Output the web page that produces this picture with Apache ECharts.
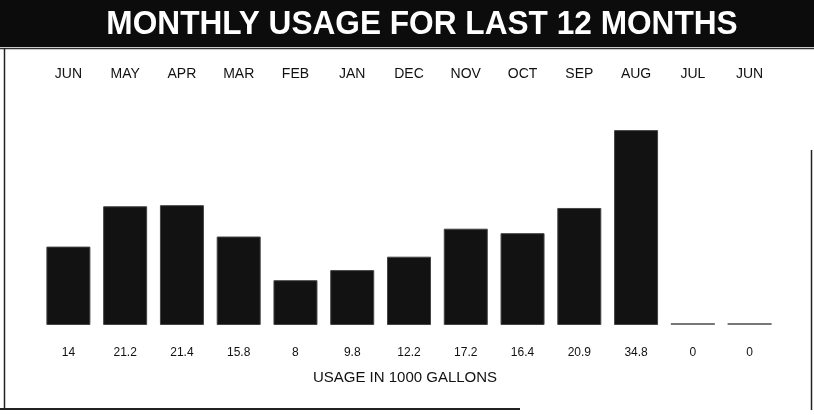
<!DOCTYPE html>
<html>
<head>
<meta charset="utf-8">
<script src="https://cdn.jsdelivr.net/npm/echarts@6/dist/echarts.min.js"></script>
<style>
  html, body { margin: 0; padding: 0; background: #fff; }
  #chart { width: 814px; height: 415px; }
</style>
</head>
<body>
<div id="chart"></div>
<script>
// months, newest first (as on the bill)
const months = ['JUN', 'MAY', 'APR', 'MAR', 'FEB', 'JAN', 'DEC', 'NOV', 'OCT', 'SEP', 'AUG', 'JUL', 'JUN']
// usage in 1000 gallons
const usage = [14, 21.2, 21.4, 15.8, 8, 9.8, 12.2, 17.2, 16.4, 20.9, 34.8, 0, 0]

const titleText = 'MONTHLY USAGE FOR LAST 12 MONTHS'
const unitText = 'USAGE IN 1000 GALLONS'

const chart = echarts.init(document.getElementById('chart'))

chart.setOption({
  animation: false,
  backgroundColor: '#fff',
  grid: { left: 40, right: 36, top: 101, bottom: 90 },
  xAxis: {
    type: 'category',
    position: 'top',
    data: months,
    axisLine: { show: false },
    axisTick: { show: false },
    axisLabel: {
      margin: 20,
      color: '#111',
      fontFamily: 'Liberation Sans, Arial, sans-serif',
      fontSize: 14
    }
  },
  yAxis: {
    type: 'value',
    min: 0,
    max: 40,
    show: false
  },
  series: [
    {
      type: 'bar',
      barWidth: 44,
      barMinHeight: 2,
      data: usage.map(v => v === 0
        ? { value: v, itemStyle: { color: '#777', borderWidth: 0 } }
        : v),
      itemStyle: {
        color: '#121212',
        borderColor: '#444',
        borderWidth: 1
      },
      label: {
        show: true,
        position: 'bottom',
        distance: 22,
        color: '#111',
        fontFamily: 'Liberation Sans, Arial, sans-serif',
        fontSize: 12,
        formatter: p => String(p.value)
      }
    }
  ],
  graphic: [
    {
      type: 'rect',
      shape: { x: 0, y: 0, width: 814, height: 47 },
      style: { fill: '#0c0c0c' }
    },
    {
      type: 'line',
      shape: { x1: 0, y1: 48.5, x2: 814, y2: 48.5 },
      style: { stroke: '#333', lineWidth: 1.5 }
    },
    {
      type: 'text',
      x: 422,
      y: 25,
      scaleX: 0.93,
      style: {
        text: titleText,
        fill: '#fff',
        font: 'bold 34px "Liberation Sans", Arial, sans-serif',
        textAlign: 'center',
        textVerticalAlign: 'middle'
      }
    },
    {
      type: 'text',
      x: 405,
      y: 378,
      style: {
        text: unitText,
        fill: '#111',
        font: '15px "Liberation Sans", Arial, sans-serif',
        textAlign: 'center',
        textVerticalAlign: 'middle'
      }
    },
    {
      type: 'line',
      shape: { x1: 4.5, y1: 48, x2: 4.5, y2: 410 },
      style: { stroke: '#222', lineWidth: 1.5 }
    },
    {
      type: 'line',
      shape: { x1: 0, y1: 409, x2: 520, y2: 409 },
      style: { stroke: '#222', lineWidth: 2 }
    },
    {
      type: 'line',
      shape: { x1: 811.5, y1: 150, x2: 811.5, y2: 410 },
      style: { stroke: '#222', lineWidth: 1.5 }
    }
  ]
})
</script>
</body>
</html>
